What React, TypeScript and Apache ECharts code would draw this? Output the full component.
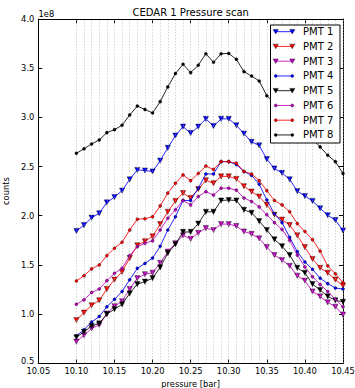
import React, { useEffect, useRef } from "react";
import * as echarts from "echarts";

// pressure [bar]
const pressure = [
  10.1, 10.11, 10.12, 10.13, 10.14, 10.15, 10.16, 10.17, 10.18, 10.19, 10.2, 10.21,
  10.22, 10.23, 10.24, 10.25, 10.26, 10.27, 10.28, 10.29, 10.3, 10.31, 10.32, 10.33,
  10.34, 10.35, 10.36, 10.37, 10.38, 10.39, 10.4, 10.41, 10.42, 10.43, 10.44, 10.45,
];

// counts in units of 1e8
const pmt1 = [1.845, 1.905, 1.98, 2.025, 2.135, 2.19, 2.255, 2.37, 2.465, 2.46, 2.45, 2.56, 2.69, 2.815, 2.905, 2.84, 2.905, 2.985, 2.91, 2.985, 2.985, 2.92, 2.835, 2.75, 2.715, 2.575, 2.48, 2.435, 2.37, 2.25, 2.2, 2.15, 2.075, 2.005, 1.955, 1.85];
const pmt2 = [0.94, 1.015, 1.09, 1.14, 1.255, 1.35, 1.43, 1.57, 1.7, 1.74, 1.79, 1.915, 2.04, 2.15, 2.23, 2.18, 2.27, 2.36, 2.33, 2.4, 2.4, 2.375, 2.3, 2.245, 2.195, 2.11, 2.01, 1.96, 1.905, 1.8, 1.68, 1.56, 1.47, 1.42, 1.35, 1.29];
const pmt3 = [0.72, 0.785, 0.855, 0.89, 1.005, 1.08, 1.13, 1.255, 1.365, 1.405, 1.42, 1.52, 1.635, 1.72, 1.8, 1.765, 1.825, 1.875, 1.855, 1.915, 1.915, 1.895, 1.84, 1.815, 1.77, 1.68, 1.6, 1.55, 1.49, 1.39, 1.34, 1.23, 1.18, 1.12, 1.075, 0.995];
const pmt4 = [0.78, 0.84, 0.92, 0.975, 1.075, 1.15, 1.23, 1.35, 1.465, 1.515, 1.57, 1.69, 1.855, 1.99, 2.155, 2.155, 2.28, 2.425, 2.425, 2.55, 2.55, 2.52, 2.45, 2.41, 2.32, 2.16, 2.02, 1.93, 1.78, 1.635, 1.53, 1.455, 1.365, 1.31, 1.265, 1.255];
const pmt5 = [0.765, 0.82, 0.88, 0.905, 1.0, 1.05, 1.1, 1.21, 1.305, 1.33, 1.365, 1.475, 1.62, 1.71, 1.835, 1.835, 1.92, 2.04, 2.04, 2.155, 2.16, 2.155, 2.06, 2.03, 1.945, 1.855, 1.76, 1.69, 1.6, 1.47, 1.42, 1.305, 1.245, 1.18, 1.14, 1.125];
const pmt6 = [1.1, 1.145, 1.22, 1.255, 1.34, 1.415, 1.465, 1.595, 1.685, 1.72, 1.745, 1.855, 1.975, 2.06, 2.155, 2.11, 2.195, 2.245, 2.21, 2.28, 2.28, 2.26, 2.18, 2.145, 2.09, 2.01, 1.93, 1.86, 1.75, 1.6, 1.48, 1.38, 1.3, 1.23, 1.15, 1.075];
const pmt7 = [1.337, 1.39, 1.46, 1.5, 1.595, 1.67, 1.73, 1.855, 1.965, 1.97, 1.99, 2.1, 2.23, 2.33, 2.415, 2.357, 2.43, 2.505, 2.47, 2.55, 2.55, 2.535, 2.45, 2.425, 2.357, 2.255, 2.155, 2.11, 2.04, 1.92, 1.84, 1.757, 1.64, 1.49, 1.41, 1.32];
const pmt8 = [2.635, 2.68, 2.73, 2.77, 2.845, 2.875, 2.92, 3.025, 3.115, 3.08, 3.045, 3.16, 3.31, 3.445, 3.54, 3.455, 3.53, 3.647, 3.56, 3.647, 3.65, 3.59, 3.465, 3.42, 3.37, 3.22, 3.15, 3.08, 3.0, 2.92, 2.85, 2.78, 2.7, 2.615, 2.55, 2.43];

const seriesNames = ["PMT 1", "PMT 2", "PMT 3", "PMT 4", "PMT 5", "PMT 6", "PMT 7", "PMT 8"];
const seriesColors = ["#0000ff", "#ff0000", "#bf00bf", "#0000ff", "#000000", "#bf00bf", "#ff0000", "#000000"];
const seriesMarkers = ["tri", "tri", "tri", "dot", "tri", "dot", "dot", "dot"];
const allValues = [pmt1, pmt2, pmt3, pmt4, pmt5, pmt6, pmt7, pmt8];

const FONT = "DejaVu Sans";
const Y_MIN = 0.5;

export default function App() {
  const ref = useRef<HTMLDivElement>(null);
  useEffect(() => {
    const chart = echarts.init(ref.current!, null, { renderer: "svg" });

    const series: any[] = [
      {
        type: "line",
        data: [],
        z: 1,
        silent: true,
        markLine: {
          silent: true,
          symbol: "none",
          label: { show: false },
          animation: false,
          lineStyle: { color: "#a8a8a8", type: [1, 2], width: 0.7 },
          emphasis: { disabled: true },
          data: pressure.map((p) => ({ xAxis: p })),
        },
      },
    ];
    allValues.forEach((vals, k) => {
      const tri = seriesMarkers[k] === "tri";
      series.push({
        name: seriesNames[k],
        type: "line",
        z: 2 + k,
        data: pressure.map((p, i) => [p, vals[i]]),
        symbol: tri ? "triangle" : "circle",
        symbolRotate: tri ? 180 : 0,
        symbolSize: tri ? 5.2 : 3,
        showAllSymbol: true,
        lineStyle: { color: seriesColors[k], width: 0.85 },
        itemStyle: { color: seriesColors[k], borderColor: "#000", borderWidth: 0.4 },
        emphasis: { disabled: true },
      });
    });

    const legendEls: any[] = [
      {
        type: "rect",
        z: 100,
        shape: { x: 270.5, y: 25, width: 69.5, height: 118 },
        style: { fill: "#fff", stroke: "#000", lineWidth: 1 },
      },
    ];
    const lx0 = 275.7;
    const lx1 = 292.3;
    const ly0 = 31.7;
    const dy = 14.75;
    seriesNames.forEach((n, k) => {
      const y = ly0 + dy * k;
      const c = seriesColors[k];
      legendEls.push({
        type: "line",
        z: 101,
        shape: { x1: lx0, y1: y, x2: lx1, y2: y },
        style: { stroke: c, lineWidth: 0.85 },
      });
      [lx0, lx1].forEach((x) => {
        if (seriesMarkers[k] === "tri") {
          legendEls.push({
            type: "polygon",
            z: 102,
            shape: { points: [[x - 2.6, y - 2.3], [x + 2.6, y - 2.3], [x, y + 2.3]] },
            style: { fill: c, stroke: "#000", lineWidth: 0.4 },
          });
        } else {
          legendEls.push({
            type: "circle",
            z: 102,
            shape: { cx: x, cy: y, r: 1.5 },
            style: { fill: c, stroke: "#000", lineWidth: 0.4 },
          });
        }
      });
      legendEls.push({
        type: "text",
        z: 102,
        x: 303,
        y: y,
        style: {
          text: n,
          fontSize: 10,
          fontFamily: FONT,
          fill: "#000",
          align: "left",
          verticalAlign: "middle",
          textAlign: "left",
          textVerticalAlign: "middle",
        },
      });
    });

    const axisCommon = {
      type: "value",
      axisLine: { show: true, onZero: false, lineStyle: { color: "#000", width: 1 } },
      axisTick: { show: true, inside: true, length: 4, lineStyle: { color: "#000", width: 1 } },
    };

    chart.setOption({
      animation: false,
      grid: { left: 38.3, right: 12, top: 19, bottom: 24.7, containLabel: false, outerBoundsMode: "none" },
      xAxis: [
        {
          ...axisCommon,
          position: "bottom",
          min: 10.05,
          max: 10.45,
          interval: 0.05,
          axisLabel: {
            formatter: (v: number) => v.toFixed(2),
            fontSize: 8.3,
            lineHeight: 7,
            color: "#000",
            fontFamily: FONT,
            margin: 4,
          },
          splitLine: { show: false },
          name: "pressure [bar]",
          nameLocation: "middle",
          nameGap: 15,
          nameTextStyle: { fontSize: 8.3, color: "#000", fontFamily: FONT },
        },
        {
          ...axisCommon,
          position: "top",
          min: 10.05,
          max: 10.45,
          interval: 0.05,
          axisLabel: { show: false },
          splitLine: { show: false },
        },
      ],
      yAxis: [
        {
          ...axisCommon,
          position: "left",
          min: Y_MIN,
          max: 4.0,
          interval: 0.5,
          axisLabel: {
            formatter: (v: number) =>
              Math.abs(v - Y_MIN) < 1e-9 ? `{lo|${v.toFixed(1)}}` : v.toFixed(1),
            fontSize: 8.3,
            lineHeight: 7,
            color: "#000",
            fontFamily: FONT,
            margin: 4,
            rich: {
              lo: {
                fontSize: 8.3,
                lineHeight: 7,
                color: "#000",
                fontFamily: FONT,
                padding: [0, 0, 5, 0],
              },
            },
          },
          splitLine: { show: false },
          name: "counts",
          nameLocation: "middle",
          nameGap: 21,
          nameTextStyle: { fontSize: 8.3, color: "#000", fontFamily: FONT },
        },
        {
          ...axisCommon,
          position: "right",
          min: Y_MIN,
          max: 4.0,
          interval: 0.5,
          axisLabel: { show: false },
          splitLine: { show: false },
        },
      ],
      graphic: [
        {
          type: "text",
          x: 190.7,
          y: 12,
          style: {
            text: "CEDAR 1 Pressure scan",
            fontSize: 10,
            fontFamily: FONT,
            fill: "#000",
            align: "center",
            verticalAlign: "middle",
            textAlign: "center",
            textVerticalAlign: "middle",
          },
        },
        {
          type: "text",
          x: 38.5,
          y: 14,
          style: {
            text: "1e8",
            fontSize: 8.3,
            fontFamily: FONT,
            fill: "#000",
            align: "left",
            verticalAlign: "middle",
            textAlign: "left",
            textVerticalAlign: "middle",
          },
        },
        ...legendEls,
      ],
      series,
    });

    return () => chart.dispose();
  }, []);

  return (
    <div
      ref={ref}
      style={{ position: "fixed", left: 0, top: 0, width: "355px", height: "388px", background: "#fff" }}
    />
  );
}
